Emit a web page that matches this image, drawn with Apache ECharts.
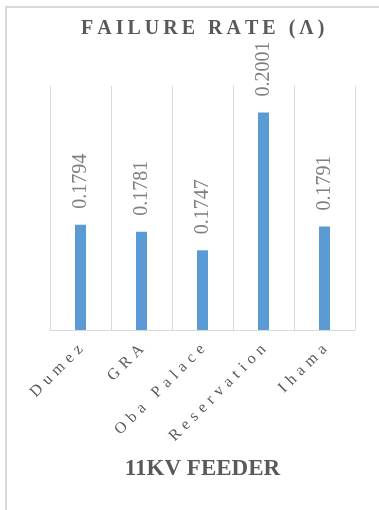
<!doctype html>
<html lang="en">
<head>
    <meta charset="UTF-8">
    <script src="https://cdn.jsdelivr.net/npm/echarts@6/dist/echarts.min.js"></script>
    <title>Failure rate</title>
    <style>
        body { margin: 0; background: #fff; }
        #frame { position: absolute; left: 5px; top: 6px; width: 380px; height: 510px;
                 border-left: 2px solid #d9d9d9; border-top: 2px solid #d9d9d9; }
        #main { position: absolute; left: 0; top: 0; width: 379px; height: 510px; }
    </style>
</head>
<body>
<div id="frame"></div>
<div id="main"></div>
<script type="text/javascript">
    // feeders and failure rates
    var feeders = ['Dumez', 'GRA', 'Oba Palace', 'Reservation', 'Ihama'];
    var failureRate = [0.1794, 0.1781, 0.1747, 0.2001, 0.1791];
    var yMin = 0.16, yMax = 0.205;

    // spread letters out like the original text
    function spaced(s, gap) {
        return s.split('').join(gap);
    }

    var serif = '"Liberation Serif", "Times New Roman", serif';
    var mychart = echarts.init(document.getElementById('main'));
    var option = {
        animation: false,
        title: {
            text: spaced('FAILURE RATE (\u039b)', '\u2009'),
            left: 76,
            top: 14,
            textStyle: { color: '#595959', fontSize: 20, fontWeight: 'bold', fontFamily: serif }
        },
        grid: { left: 50, right: 24, top: 86, bottom: 180 },
        xAxis: {
            type: 'category',
            data: feeders,
            name: '11KV FEEDER',
            nameLocation: 'middle',
            nameGap: 128,
            nameTextStyle: { color: '#595959', fontSize: 23, fontWeight: 'bold', fontFamily: serif },
            axisLine: { lineStyle: { color: '#d9d9d9', width: 1 } },
            axisTick: { show: false },
            splitLine: { show: true, lineStyle: { color: '#d9d9d9', width: 1 } },
            axisLabel: {
                rotate: 45,
                margin: 17,
                color: '#595959',
                fontSize: 16,
                fontFamily: serif,
                formatter: function (v) { return spaced(v, '\u2004'); }
            }
        },
        yAxis: { type: 'value', show: false, min: yMin, max: yMax, splitLine: { show: false } },
        series: [{
            type: 'bar',
            data: failureRate,
            barWidth: 11,
            itemStyle: { color: '#5b9bd5' },
            label: {
                show: true,
                position: 'top',
                rotate: 90,
                align: 'left',
                verticalAlign: 'middle',
                distance: 16,
                color: '#7f7f7f',
                fontSize: 20,
                fontFamily: serif
            }
        }]
    };
    mychart.setOption(option);
</script>
</body>
</html>
